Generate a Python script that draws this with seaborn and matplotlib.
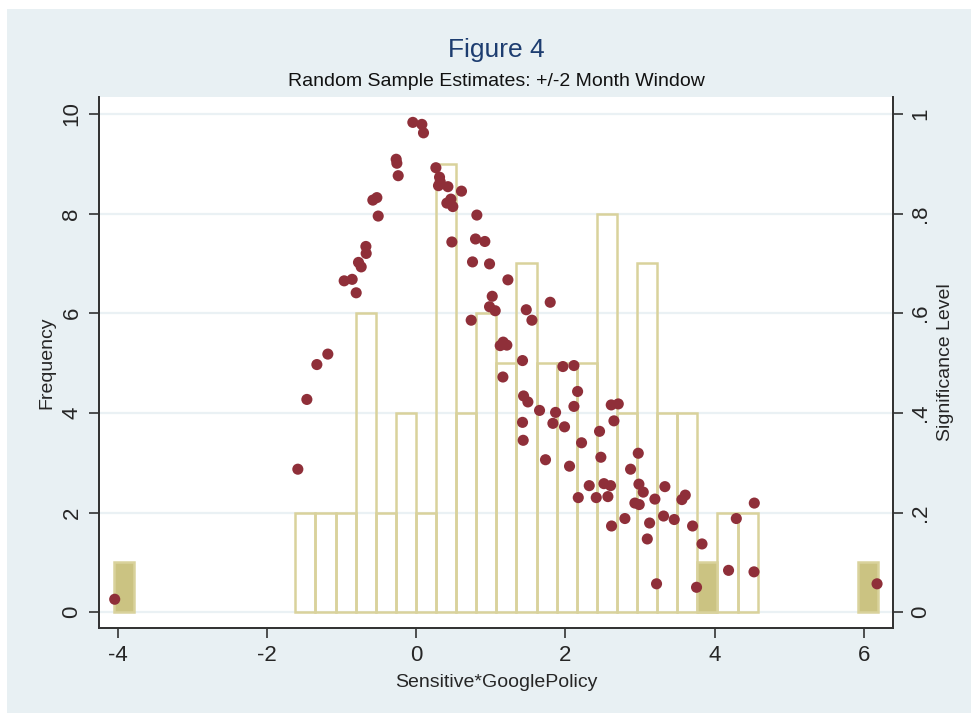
import numpy as np
import pandas as pd
import matplotlib
matplotlib.use("Agg")
import matplotlib.pyplot as plt
import seaborn as sns

# histogram: bins of equal width starting at bin_start
bin_start = -1.62
bin_width = 0.2694
outline_counts = [2, 2, 2, 6, 2, 4, 2, 9, 4, 6, 5, 7, 5, 5, 5, 8, 4, 7, 4, 4, 0, 2, 2]
# the three shaded bars (one estimate each)
filled_x = [-3.91, 3.90, 6.06]
filled_counts = [1, 1, 1]

# significance level of each estimate (right axis)
sig_x = [-4.04, -1.586, -1.465, -1.331, -1.184, -0.965, -0.858, -0.804, -0.773, -0.737,
         -0.674, -0.670, -0.581, -0.527, -0.509, -0.268, -0.259, -0.241, -0.045, 0.076,
         0.098, 0.264, 0.313, 0.322, 0.299, 0.425, 0.607, 0.411, 0.465, 0.491,
         0.813, 0.478, 0.795, 0.920, 0.755, 0.983, 1.229, 1.019, 0.983, 1.059,
         0.737, 1.796, 1.475, 1.551, 1.126, 1.166, 1.215, 1.162, 1.425, 1.966,
         2.114, 1.439, 1.497, 2.163, 1.653, 1.868, 2.114, 1.425, 1.832, 1.988,
         1.434, 2.216, 1.733, 2.055, 2.457, 2.475, 2.319, 2.172, 2.413, 2.516,
         2.605, 2.569, 2.614, 2.708, 2.650, 2.618, 2.797, 2.873, 2.976, 2.985,
         3.043, 2.931, 2.989, 3.199, 3.333, 3.128, 3.097, 3.221, 3.315, 3.458,
         3.561, 3.606, 3.704, 3.830, 3.757, 4.186, 4.290, 4.527, 4.531, 6.176]
sig_y = [0.026, 0.287, 0.427, 0.497, 0.518, 0.665, 0.668, 0.641, 0.702, 0.693,
         0.734, 0.720, 0.827, 0.832, 0.795, 0.909, 0.901, 0.876, 0.983, 0.979,
         0.962, 0.892, 0.873, 0.864, 0.856, 0.854, 0.845, 0.821, 0.829, 0.814,
         0.797, 0.743, 0.749, 0.744, 0.703, 0.699, 0.667, 0.634, 0.613, 0.605,
         0.586, 0.622, 0.607, 0.586, 0.535, 0.542, 0.536, 0.472, 0.505, 0.493,
         0.495, 0.434, 0.422, 0.443, 0.405, 0.401, 0.413, 0.381, 0.379, 0.372,
         0.345, 0.340, 0.306, 0.293, 0.363, 0.311, 0.254, 0.230, 0.230, 0.258,
         0.254, 0.232, 0.416, 0.418, 0.384, 0.173, 0.188, 0.287, 0.319, 0.257,
         0.241, 0.219, 0.216, 0.227, 0.252, 0.179, 0.147, 0.057, 0.193, 0.186,
         0.226, 0.235, 0.173, 0.137, 0.050, 0.084, 0.188, 0.081, 0.219, 0.057]

x_ticks = [-4, -2, 0, 2, 4, 6]
freq_ticks = [0, 2, 4, 6, 8, 10]
sig_ticks = [0, 0.2, 0.4, 0.6, 0.8, 1]
sig_labels = ["0", ".2", ".4", ".6", ".8", "1"]

sns.set_style("white")
plt.rcParams['font.family'] = ['Liberation Sans', 'DejaVu Sans']

bar_line = '#d9d29c'
bar_fill = '#cbc382'
dot_color = '#8f2f39'
bg = '#e8f0f3'

fig = plt.figure(figsize=(9.71, 7.13), dpi=100)
fig.patch.set_facecolor('white')
fig.patches.append(plt.Rectangle((7 / 971, 0), 1, 1 - 9 / 713, transform=fig.transFigure,
                                 facecolor=bg, edgecolor='none', zorder=-10))

ax = fig.add_axes([0.102, 0.119, 0.818, 0.745])
ax.set_facecolor('white')

# outlined histogram over its own bin range
n_bins = len(outline_counts)
outline_edges = [bin_start + bin_width * k for k in range(n_bins + 1)]
outline_df = pd.DataFrame({
    'x': [bin_start + bin_width * (i + 0.5) for i in range(n_bins)],
    'n': outline_counts,
})
sns.histplot(data=outline_df, x='x', weights='n', bins=outline_edges, ax=ax, fill=False,
             color=bar_line, linewidth=1.8, zorder=2)

# shaded bars, each in its own bin of the same grid
for fx, fn in zip(filled_x, filled_counts):
    k = int(np.floor((fx - bin_start) / bin_width))
    sns.histplot(x=[fx], weights=[fn], bins=[bin_start + bin_width * k, bin_start + bin_width * (k + 1)],
                 ax=ax, fill=True, facecolor=bar_fill, edgecolor=bar_line, alpha=1,
                 linewidth=1.8, zorder=2)

ax.set_xlim(-4.25, 6.394)
ax.set_ylim(-0.32, 10.34)
ax.set_xticks(x_ticks)
ax.set_xticklabels([str(t) for t in x_ticks])
ax.set_yticks(freq_ticks)
ax.set_yticklabels([str(t) for t in freq_ticks], rotation=90, va='center')
ax.yaxis.grid(True, color='#eaf1f4', linewidth=1.6, zorder=0)
ax.xaxis.grid(False)
ax.set_axisbelow(True)
ax.tick_params(axis='both', which='major', direction='out', length=7, width=1.1,
               color='#222222', labelsize=16, pad=5, left=True, bottom=True)
ax.set_xlabel('Sensitive*GooglePolicy', fontsize=14, labelpad=6)
ax.set_ylabel('Frequency', fontsize=14, labelpad=4)

ax2 = ax.twinx()
sns.scatterplot(x=sig_x, y=sig_y, ax=ax2, color=dot_color, s=64, edgecolor='none', zorder=3)
ax2.set_ylim(-0.032, 1.034)
ax2.set_yticks(sig_ticks)
ax2.set_yticklabels(sig_labels, rotation=90, va='center')
ax2.tick_params(axis='y', direction='out', length=7, width=1.1, color='#222222',
                labelsize=16, pad=5, right=True)
ax2.set_ylabel('Significance Level', fontsize=14, labelpad=4)

for a in (ax, ax2):
    a.spines['top'].set_visible(False)
    for s in ('left', 'right', 'bottom'):
        a.spines[s].set_color('#333333')
        a.spines[s].set_linewidth(1.3)

fig.text(0.511, 0.930, 'Figure 4', ha='center', va='center', fontsize=19, color='#1d3d70')
fig.text(0.511, 0.885, 'Random Sample Estimates: +/-2 Month Window', ha='center', va='center',
         fontsize=14, color='#111111')

fig.savefig('out.png', dpi=100)
